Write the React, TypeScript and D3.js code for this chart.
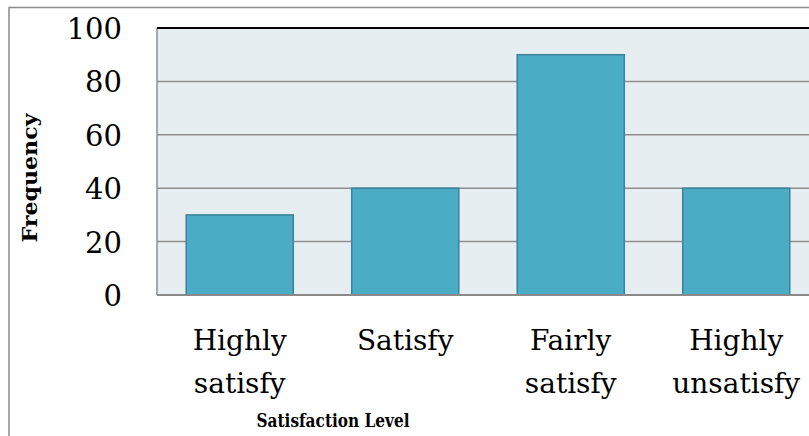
import * as d3 from "d3";
import { useEffect, useRef } from "react";

const categories = [
  ["Highly", "satisfy"],
  ["Satisfy"],
  ["Fairly", "satisfy"],
  ["Highly", "unsatisfy"],
];
const frequency = [30, 40, 90, 40];
const yTicks = [0, 20, 40, 60, 80, 100];

export default function App() {
  const ref = useRef<SVGSVGElement>(null);

  useEffect(() => {
    const svg = d3.select(ref.current);
    svg.selectAll("*").remove();

    // chart dimensions (the original is cropped on the right)
    const width = 809;
    const height = 436;
    const left = 157;
    const right = 819;
    const top = 28;
    const bottom = 295;

    const keys = categories.map((c) => c.join(" "));

    const x = d3
      .scaleBand()
      .domain(keys)
      .range([left, right])
      .paddingInner(0.353)
      .paddingOuter(0.1765);

    const y = d3.scaleLinear().domain([0, 100]).range([bottom, top]);

    // outer chart border
    svg
      .append("rect")
      .attr("x", 9)
      .attr("y", 7.5)
      .attr("width", width + 20)
      .attr("height", height + 20)
      .attr("fill", "#fff")
      .attr("stroke", "#8c8c8c")
      .attr("stroke-width", 1.5);

    // plot background
    svg
      .append("rect")
      .attr("x", left)
      .attr("y", top)
      .attr("width", right - left)
      .attr("height", bottom - top)
      .attr("fill", "#e7eef2");

    // gridlines
    svg
      .append("g")
      .selectAll("line")
      .data(yTicks.filter((t) => t > 0 && t < 100))
      .join("line")
      .attr("x1", left)
      .attr("x2", right)
      .attr("y1", (d) => y(d))
      .attr("y2", (d) => y(d))
      .attr("stroke", "#8e8e8e")
      .attr("stroke-width", 1.5);

    // left edge + top line
    svg
      .append("line")
      .attr("x1", left)
      .attr("x2", left)
      .attr("y1", top)
      .attr("y2", bottom)
      .attr("stroke", "#8e8e8e")
      .attr("stroke-width", 1.5);
    svg
      .append("line")
      .attr("x1", left)
      .attr("x2", right)
      .attr("y1", top)
      .attr("y2", top)
      .attr("stroke", "#000")
      .attr("stroke-width", 2);

    // bars
    svg
      .append("g")
      .selectAll("rect")
      .data(frequency)
      .join("rect")
      .attr("x", (_, i) => x(keys[i])!)
      .attr("y", (d) => y(d))
      .attr("width", x.bandwidth())
      .attr("height", (d) => bottom - y(d))
      .attr("fill", "#4bacc6")
      .attr("stroke", "#3b8399")
      .attr("stroke-width", 1.5);

    // bottom axis line
    svg
      .append("line")
      .attr("x1", left)
      .attr("x2", right)
      .attr("y1", bottom)
      .attr("y2", bottom)
      .attr("stroke", "#8a8a8a")
      .attr("stroke-width", 2);

    // y tick labels
    svg
      .append("g")
      .selectAll("text")
      .data(yTicks)
      .join("text")
      .attr("x", 122)
      .attr("y", (d) => y(d) + 11)
      .attr("text-anchor", "end")
      .attr("font-family", "DejaVu Serif")
      .attr("font-size", 29)
      .attr("fill", "#000")
      .text((d) => d);

    // category labels
    const cat = svg
      .append("g")
      .selectAll("text")
      .data(categories)
      .join("text")
      .attr("x", (_, i) => x(keys[i])! + x.bandwidth() / 2)
      .attr("y", 350)
      .attr("text-anchor", "middle")
      .attr("font-family", "DejaVu Serif")
      .attr("font-size", 28)
      .attr("fill", "#000");
    cat
      .selectAll("tspan")
      .data((d) => d)
      .join("tspan")
      .attr("x", function () {
        return (this.parentNode as SVGTextElement).getAttribute("x");
      })
      .attr("dy", (_, i) => (i === 0 ? 0 : 43))
      .text((d) => d);

    // axis titles
    svg
      .append("text")
      .attr("x", 333)
      .attr("y", 427)
      .attr("text-anchor", "middle")
      .attr("font-family", "DejaVu Serif")
      .attr("font-weight", "bold")
      .attr("font-size", 19)
      .attr("textLength", 153)
      .attr("lengthAdjust", "spacingAndGlyphs")
      .text("Satisfaction Level");

    svg
      .append("text")
      .attr("transform", "translate(37,178) rotate(-90)")
      .attr("text-anchor", "middle")
      .attr("font-family", "DejaVu Serif")
      .attr("font-weight", "bold")
      .attr("font-size", 20)
      .attr("textLength", 129)
      .attr("lengthAdjust", "spacingAndGlyphs")
      .text("Frequency");
  }, []);

  return (
    <svg
      ref={ref}
      width={809}
      height={436}
      style={{ position: "fixed", left: 0, top: 0, background: "#fff" }}
    />
  );
}
